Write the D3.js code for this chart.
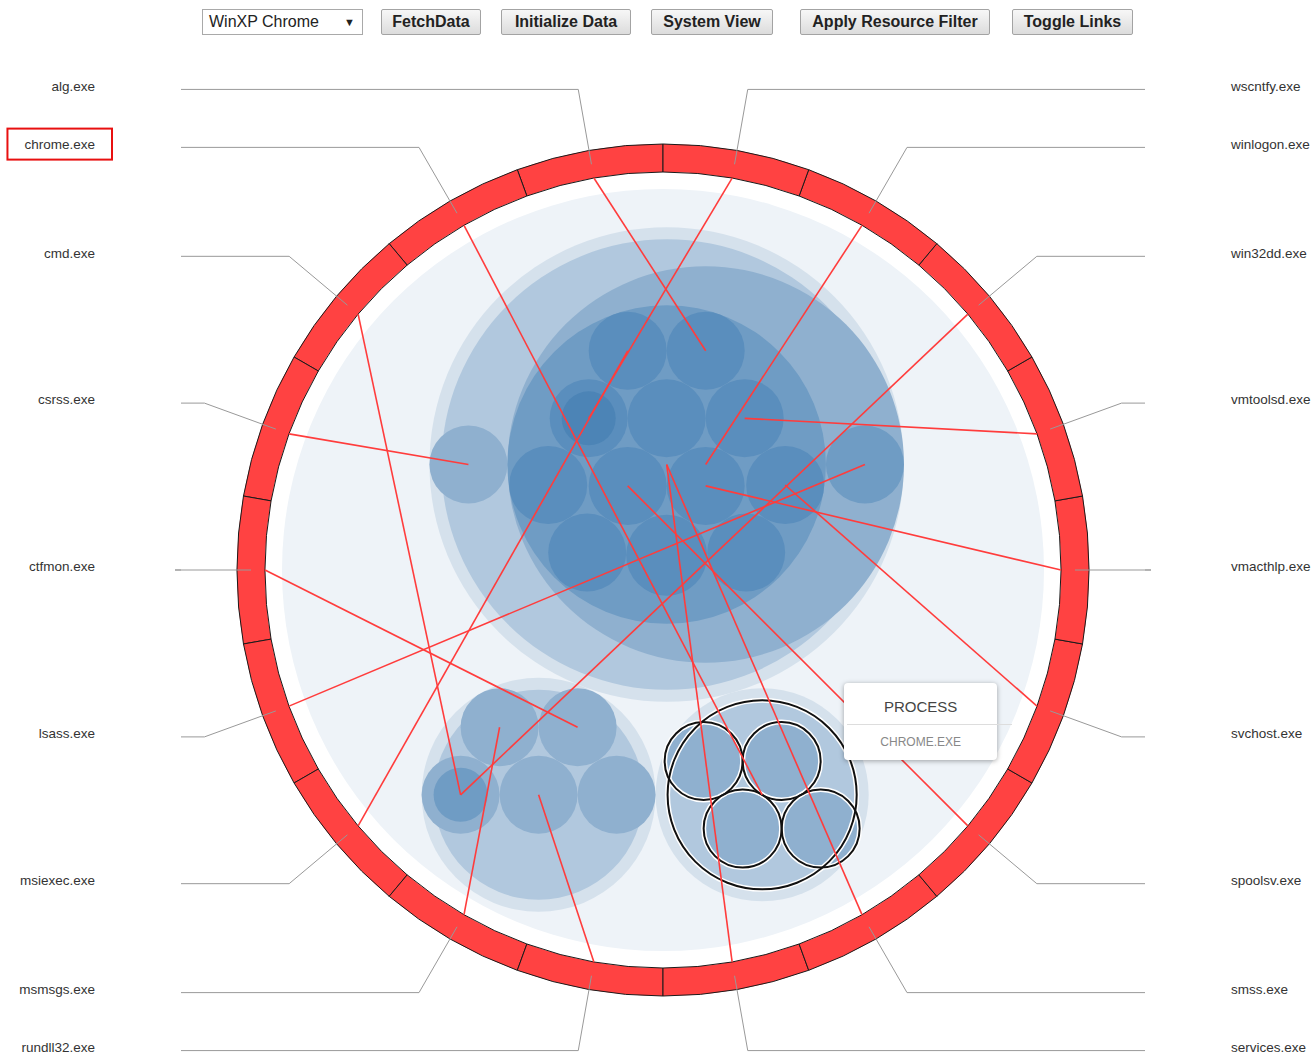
<!DOCTYPE html>
<html>
<head>
<meta charset="utf-8">
<script src="https://cdnjs.cloudflare.com/ajax/libs/d3/7.8.5/d3.min.js"></script>
<style>
  body { margin: 0; background: #fff; font-family: "Liberation Sans", Arial, sans-serif; }
  #chart { position: absolute; left: 0; top: 0; }
  .ctl { position: absolute; top: 9px; height: 26px; box-sizing: border-box; font-family: "Liberation Sans Narrow", "Arial Narrow", sans-serif; font-size: 16px; color: #222; }
  .ctl.select { background: #fff; border: 1px solid #a9a9a9; line-height: 24px; padding-left: 6px; }
  .ctl.select span { position: absolute; right: 7px; top: 0; font-size: 11px; }
  .ctl.button { background: linear-gradient(#f7f7f7, #dcdcdc); border: 1px solid #a3a3a3; border-radius: 2px; font-weight: bold; line-height: 24px; text-align: center; }
  #tip { position: absolute; background: #fff; border-radius: 4px; box-shadow: 0 1px 5px rgba(0,0,0,0.35); width: 153px; height: 77px; text-align: center; }
  #tip .title { font-size: 15px; color: #444; padding-top: 15px; height: 26px; }
  #tip .rule { position: absolute; left: 3px; top: 41px; width: 165px; border-top: 1px solid #ddd; }
  #tip .name { font-size: 12px; color: #888; padding-top: 11px; }
</style>
</head>
<body>
<div class="ctl select" style="left:202px;width:161px">WinXP Chrome<span>▼</span></div>
<div class="ctl button" style="left:381px;width:100px">FetchData</div>
<div class="ctl button" style="left:501px;width:130px">Initialize Data</div>
<div class="ctl button" style="left:651px;width:122px">System View</div>
<div class="ctl button" style="left:800px;width:190px">Apply Resource Filter</div>
<div class="ctl button" style="left:1012px;width:121px">Toggle Links</div>
<svg id="chart"></svg>
<div id="tip"><div class="title">PROCESS</div><div class="rule"></div><div class="name">CHROME.EXE</div></div>
<script>
// processes on the ring, alphabetical (counter-clockwise from the top)
const processes = ['alg.exe', 'chrome.exe', 'cmd.exe', 'csrss.exe', 'ctfmon.exe', 'lsass.exe',
    'msiexec.exe', 'msmsgs.exe', 'rundll32.exe', 'services.exe', 'smss.exe', 'spoolsv.exe',
    'svchost.exe', 'vmacthlp.exe', 'vmtoolsd.exe', 'win32dd.exe', 'winlogon.exe', 'wscntfy.exe'];
const selectedProcess = 'chrome.exe';
const selectedGroup = 'A';

// resource hierarchy, child order matters for the packing
const resourceIds = ['root',
    'A', 'A1', 'a1', 'a2', 'a3', 'a4',
    'B', 'B1', 'b1', 'b2', 'b3', 'b4', 'b5', 'b5x',
    'C', 'C1', 'C2', 'c14', 'C3', 'c1', 'c2', 'c3', 'c4', 'c5', 'c6', 'c7', 'c8', 'c9', 'c10', 'c11', 'c12', 'c5x', 'c13'];
const resourceParents = ['',
    'root', 'A', 'A1', 'A1', 'A1', 'A1',
    'root', 'B', 'B1', 'B1', 'B1', 'B1', 'B1', 'b5',
    'root', 'C', 'C1', 'C2', 'C2', 'C3', 'C3', 'C3', 'C3', 'C3', 'C3', 'C3', 'C3', 'C3', 'C3', 'C3', 'C3', 'c5', 'C1'];
// relative leaf sizes (a node holding one item takes its size)
const resourceSizes = [0,
    0, 0, 1, 1, 1, 1,
    0, 0, 1, 1, 1, 1, 0, 1,
    0, 0, 0, 1, 0, 1, 1, 1.08, 1, 0, 1, 1, 1, 1, 1, 1, 1, 1, 1];

// process -> resource links
const linkSources = ['alg.exe', 'chrome.exe', 'cmd.exe', 'csrss.exe', 'ctfmon.exe', 'lsass.exe',
    'msiexec.exe', 'msmsgs.exe', 'rundll32.exe', 'services.exe', 'smss.exe', 'spoolsv.exe',
    'svchost.exe', 'vmacthlp.exe', 'vmtoolsd.exe', 'win32dd.exe', 'winlogon.exe', 'wscntfy.exe'];
const linkTargets = ['c12', 'A1', 'b5x', 'c13', 'b2', 'c14',
    'c11', 'b4', 'b1', 'C3', 'C3', 'c1',
    'c10', 'c2', 'c6', 'b5x', 'C2', 'c5x'];

const WIDTH = 1316, HEIGHT = 1058;
const cx = 663, cy = 570;
const ringInner = 398, ringOuter = 426;
const leaderStart = 412, leaderBend = 488, leaderEnd = 482, labelGap = 568;
const rootRadius = 381, leafRadius = 39, onlyChildInset = 12;
const packOffset = [-24, 9];
// extra turn (degrees) given to the children of a node
const turns = new Map([['root', 180], ['A', -60], ['B', 120], ['C3', 180]]);
const depthColors = ['#eef3f8', '#d5e1ec', '#b1c8de', '#8fb0cf', '#6f9cc4', '#5a8ebd', '#4c84b6'];

const svg = d3.select('#chart').attr('width', WIDTH).attr('height', HEIGHT);

const angle = d3.scaleBand().domain(processes).range([2 * Math.PI, 0]);
const midAngle = p => angle(p) + angle.bandwidth() / 2;
const polar = (a, r) => [cx + r * Math.sin(a), cy - r * Math.cos(a)];
const depthColor = d3.scaleLinear().domain(d3.range(depthColors.length)).range(depthColors);

// --- circle packing of the resources
const root = d3.stratify()
    .id(d => d.id)
    .parentId(d => d.parent)(resourceIds.map((id, i) => ({ id, parent: resourceParents[i], size: resourceSizes[i] })));
root.sum(d => d.size);
d3.pack().radius(d => leafRadius * Math.sqrt(d.value)).padding(0)(root);

const rad = Math.PI / 180;
root.eachBefore(d => {
    const p = d.parent;
    if (!p) {
        d.ax = cx + packOffset[0]; d.ay = cy + packOffset[1];
        d.sx = cx; d.sy = cy;
    } else {
        const t = p.turn * rad, dx = d.x - p.x, dy = d.y - p.y;
        d.sx = d.ax = p.ax + dx * Math.cos(t) - dy * Math.sin(t);
        d.sy = d.ay = p.ay + dx * Math.sin(t) + dy * Math.cos(t);
    }
    d.turn = (p ? p.turn : 0) + (turns.get(d.id) || 0);
});
// an only child is drawn a little inside its parent
const drawR = d => d.depth === 0 ? rootRadius
    : (d.parent.children.length === 1 ? d.r - onlyChildInset : d.r);
const byId = new Map(root.descendants().map(d => [d.id, d]));

const circles = svg.append('g');
circles.selectAll('circle')
    .data(root.descendants())
    .enter().append('circle')
        .attr('cx', d => d.sx).attr('cy', d => d.sy).attr('r', drawR)
        .attr('fill', d => depthColor(d.depth));

// outline of the selected process' resources
const selected = byId.get(selectedGroup).descendants().slice(1);
[['#fff', 5], ['#111', 2]].forEach(([color, width]) => {
    circles.append('g').selectAll('circle')
        .data(selected)
        .enter().append('circle')
            .attr('cx', d => d.sx).attr('cy', d => d.sy).attr('r', drawR)
            .attr('fill', 'none').attr('stroke', color).attr('stroke-width', width);
});

// --- process ring
const arc = d3.arc().innerRadius(ringInner).outerRadius(ringOuter);
svg.append('g')
    .attr('transform', `translate(${cx},${cy})`)
    .selectAll('path')
    .data(processes)
    .enter().append('path')
        .attr('d', p => arc({ startAngle: angle(p), endAngle: angle(p) + angle.bandwidth() }))
        .attr('fill', '#ff4242').attr('stroke', '#1a1a1a').attr('stroke-width', 1);

const leader = p => {
    const a = midAngle(p);
    const bend = polar(a, leaderBend);
    const side = Math.sin(a) < 0 ? -1 : 1;
    return [polar(a, leaderStart), bend, [cx + side * leaderEnd, bend[1]]];
};
svg.append('g').selectAll('path')
    .data(processes)
    .enter().append('path')
        .attr('d', p => d3.line()(leader(p)))
        .attr('fill', 'none').attr('stroke', '#999').attr('stroke-width', 1);

const labels = svg.append('g').selectAll('text')
    .data(processes)
    .enter().append('text')
        .attr('x', p => Math.sin(midAngle(p)) < 0 ? cx - labelGap : cx + labelGap)
        .attr('y', p => leader(p)[1][1] - 3.5)
        .attr('dy', '0.35em')
        .attr('text-anchor', p => Math.sin(midAngle(p)) < 0 ? 'end' : 'start')
        .attr('font-size', 13.5).attr('fill', '#333')
        .text(p => p);

const box = labels.filter(p => p === selectedProcess).node().getBBox();
svg.append('rect')
    .attr('x', box.x - 17).attr('y', box.y - 8)
    .attr('width', box.width + 34).attr('height', box.height + 16)
    .attr('fill', 'none').attr('stroke', '#e81010').attr('stroke-width', 2);

// --- links
svg.append('g').selectAll('line')
    .data(linkSources.map((s, i) => ({ source: s, target: byId.get(linkTargets[i]) })))
    .enter().append('line')
        .attr('x1', d => polar(midAngle(d.source), ringInner)[0])
        .attr('y1', d => polar(midAngle(d.source), ringInner)[1])
        .attr('x2', d => d.target.sx).attr('y2', d => d.target.sy)
        .attr('stroke', '#ff3c3c').attr('stroke-width', 1.6);

const sel = byId.get(selectedGroup);
d3.select('#tip').style('left', (sel.sx + 82) + 'px').style('top', (sel.sy - 112) + 'px');
</script>
</body>
</html>
